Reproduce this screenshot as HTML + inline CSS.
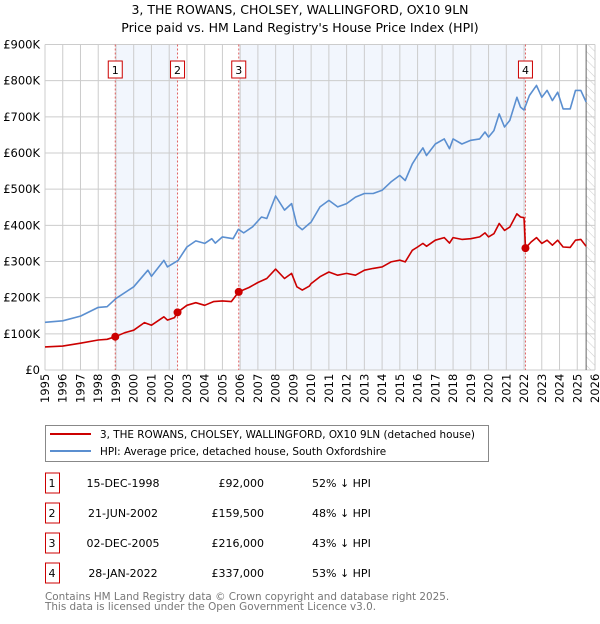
<!DOCTYPE html>
<html><head><meta charset="utf-8"><style>
body{margin:0;background:#fff;font-family:"DejaVu Sans","Liberation Sans",sans-serif;}
svg text{font-family:"DejaVu Sans","Liberation Sans",sans-serif;}
</style></head><body>
<svg id="chart" width="600" height="620" xmlns="http://www.w3.org/2000/svg">
<defs><pattern id="hatch" width="6" height="6" patternUnits="userSpaceOnUse" patternTransform="rotate(-45)"><line x1="0" y1="0" x2="0" y2="6" stroke="#ccc" stroke-width="1"/></pattern></defs>
<text x="300" y="14" text-anchor="middle" font-size="12.5">3, THE ROWANS, CHOLSEY, WALLINGFORD, OX10 9LN</text>
<text x="300" y="32" text-anchor="middle" font-size="12.5">Price paid vs. HM Land Registry's House Price Index (HPI)</text>
<g id="plot"></g>
<g>
<rect x="45.5" y="425.5" width="443" height="36" fill="#fff" stroke="#888"/>
<line x1="50" y1="434" x2="91" y2="434" stroke="#cc0000" stroke-width="2"/>
<text x="100" y="438" font-size="10.4">3, THE ROWANS, CHOLSEY, WALLINGFORD, OX10 9LN (detached house)</text>
<line x1="50" y1="451" x2="91" y2="451" stroke="#5b8fd0" stroke-width="2"/>
<text x="100" y="455" font-size="10.4">HPI: Average price, detached house, South Oxfordshire</text>
</g>
<g id="table" font-size="11"></g>
<text x="45" y="600" font-size="10.4" fill="#777">Contains HM Land Registry data © Crown copyright and database right 2025.</text>
<text x="45" y="610" font-size="10.4" fill="#777">This data is licensed under the Open Government Licence v3.0.</text>
</svg>
<script>
const hpiYears=[1995,1996,1997,1998,1998.5,1999,2000,2000.8,2001,2001.7,2001.9,2002.5,2003,2003.5,2004,2004.4,2004.6,2005,2005.6,2005.9,2006.2,2006.7,2007.2,2007.5,2008,2008.5,2008.9,2009.2,2009.5,2009.9,2010,2010.5,2011,2011.5,2012,2012.5,2013,2013.5,2014,2014.5,2015,2015.3,2015.7,2016,2016.3,2016.5,2017,2017.5,2017.8,2018,2018.5,2019,2019.5,2019.8,2020,2020.3,2020.6,2020.9,2021.2,2021.6,2021.8,2022,2022.3,2022.7,2023,2023.3,2023.6,2023.9,2024.2,2024.6,2024.9,2025.2,2025.5];
const hpiValues=[132,136,149,173,175,198,230,276,259,303,285,303,340,357,350,363,351,368,363,389,379,396,423,419,481,442,460,400,388,405,409,451,469,451,460,478,488,488,497,520,538,524,570,593,614,593,625,639,612,639,625,635,639,658,644,662,708,672,690,754,727,719,759,787,754,773,745,768,722,722,773,773,741];
const ppYears=[1995,1996,1997,1998,1998.5,1998.96,1999.5,2000,2000.6,2001,2001.7,2001.9,2002.3,2002.47,2003,2003.5,2004,2004.5,2005,2005.5,2005.92,2006.5,2007,2007.5,2008,2008.5,2008.9,2009.2,2009.5,2009.9,2010,2010.5,2011,2011.5,2012,2012.5,2013,2013.5,2014,2014.5,2015,2015.3,2015.7,2016,2016.3,2016.5,2017,2017.5,2017.8,2018,2018.5,2019,2019.5,2019.8,2020,2020.3,2020.6,2020.9,2021.2,2021.6,2021.8,2022.0,2022.08,2022.4,2022.7,2023,2023.3,2023.6,2023.9,2024.2,2024.6,2024.9,2025.2,2025.5];
const ppValues=[64,66,74,83,85,92,103,110,131,124,147,138,145,159.5,179,186,179,189,191,189,216,228,242,253,279,253,267,230,221,232,239,258,271,262,267,262,276,281,285,299,304,299,331,340,350,342,359,366,351,366,361,363,368,379,368,377,405,386,395,432,423,421,337,354,366,350,359,345,359,340,339,359,361,342];
const saleLabels=["1","2","3","4"];
const saleYears=[1998.96,2002.47,2005.92,2022.08];
const salePrices=[92,159.5,216,337];
const saleDates=["15-DEC-1998","21-JUN-2002","02-DEC-2005","28-JAN-2022"];
const salePriceText=["£92,000","£159,500","£216,000","£337,000"];
const saleHpiText=["52% ↓ HPI","48% ↓ HPI","43% ↓ HPI","53% ↓ HPI"];
const yTicks=[0,100,200,300,400,500,600,700,800,900];
const yTickLabels=["£0","£100K","£200K","£300K","£400K","£500K","£600K","£700K","£800K","£900K"];
const xTicks=[];for(let y=1995;y<=2026;y++)xTicks.push(y);

const X0=45,X1=595,Y0=370,Y1=44.5,yrMin=1995,yrMax=2026,vMax=900,dataEnd=2025.5;
const xs=y=>X0+(y-yrMin)/(yrMax-yrMin)*(X1-X0);
const ys=v=>Y0-v/vMax*(Y0-Y1);
const NS="http://www.w3.org/2000/svg";
const plot=document.getElementById('plot');
function mk(tag,attrs,parent){const e=document.createElementNS(NS,tag);for(const k in attrs)e.setAttribute(k,attrs[k]);(parent||plot).appendChild(e);return e;}

for(let i=0;i<saleYears.length-1;i+=2){
  const r=mk('rect',{x:xs(saleYears[i]),y:Y1,width:xs(saleYears[i+1])-xs(saleYears[i]),height:Y0-Y1,fill:'#f2f6fd'});
  
  
}
const h=mk('rect',{x:xs(dataEnd),y:Y1,width:X1-xs(dataEnd),height:Y0-Y1,fill:'url(#hatch)'});


xTicks.forEach(t=>{
  const l=mk('line',{x1:xs(t),x2:xs(t),y1:Y1,y2:Y0,stroke:'#cccccc','stroke-width':1});
  
  
  const tx=mk('text',{x:0,y:0,transform:`translate(${xs(t)+4},${Y0+33}) rotate(-90)`,'font-size':11.5,'text-anchor':'start'});
  tx.textContent=t;
  
  
});
yTicks.forEach((t,i)=>{
  const l=mk('line',{x1:X0,x2:X1,y1:ys(t),y2:ys(t),stroke:'#cccccc','stroke-width':1});
  
  
  const tx=mk('text',{x:X0-5,y:ys(t)+4,'font-size':11.5,'text-anchor':'end'});
  tx.textContent=yTickLabels[i];
  
  
});
const dl=mk('line',{x1:xs(dataEnd),x2:xs(dataEnd),y1:Y1,y2:Y0,stroke:'#666','stroke-width':1});


saleYears.forEach((s,i)=>{
  const l=mk('line',{x1:xs(s),x2:xs(s),y1:Y1,y2:Y0,stroke:'#e06060','stroke-width':1,'stroke-dasharray':'2,2'});
  
  
  const b=mk('rect',{x:xs(s)-7,y:61,width:14,height:17,fill:'#fff',stroke:'#cc0000'});
  
  
  const t=mk('text',{x:xs(s),y:74,'font-size':11,'text-anchor':'middle'});
  t.textContent=saleLabels[i];
  
  
});
function path(xv,yv,color,name){
  const d=xv.map((x,i)=>(i?'L':'M')+xs(x).toFixed(1)+','+ys(yv[i]).toFixed(1)).join('');
  const p=mk('path',{d:d,fill:'none',stroke:color,'stroke-width':1.6,'stroke-linejoin':'round'});
  
  
}
path(hpiYears,hpiValues,'#5b8fd0','hpi-line');
path(ppYears,ppValues,'#cc0000','price-paid-line');
saleYears.forEach((s,i)=>{
  const c=mk('circle',{cx:xs(s),cy:ys(salePrices[i]),r:4,fill:'#cc0000'});
  
  
});
const tb=document.getElementById('table');
saleLabels.forEach((lab,i)=>{
  const cy=483+i*30;
  const r=mk('rect',{x:45.5,y:cy-10,width:14,height:20,fill:'#fff',stroke:'#cc0000'},tb);
  
  
  const cells=[[lab,52,'middle'],[saleDates[i],123,'middle'],[salePriceText[i],264,'end'],[saleHpiText[i],312,'start']];
  cells.forEach((c,j)=>{
    const t=mk('text',{x:c[1],y:cy+4,'text-anchor':c[2]},tb);
    t.textContent=c[0];
    
    
  });
});
</script>
</body></html>
